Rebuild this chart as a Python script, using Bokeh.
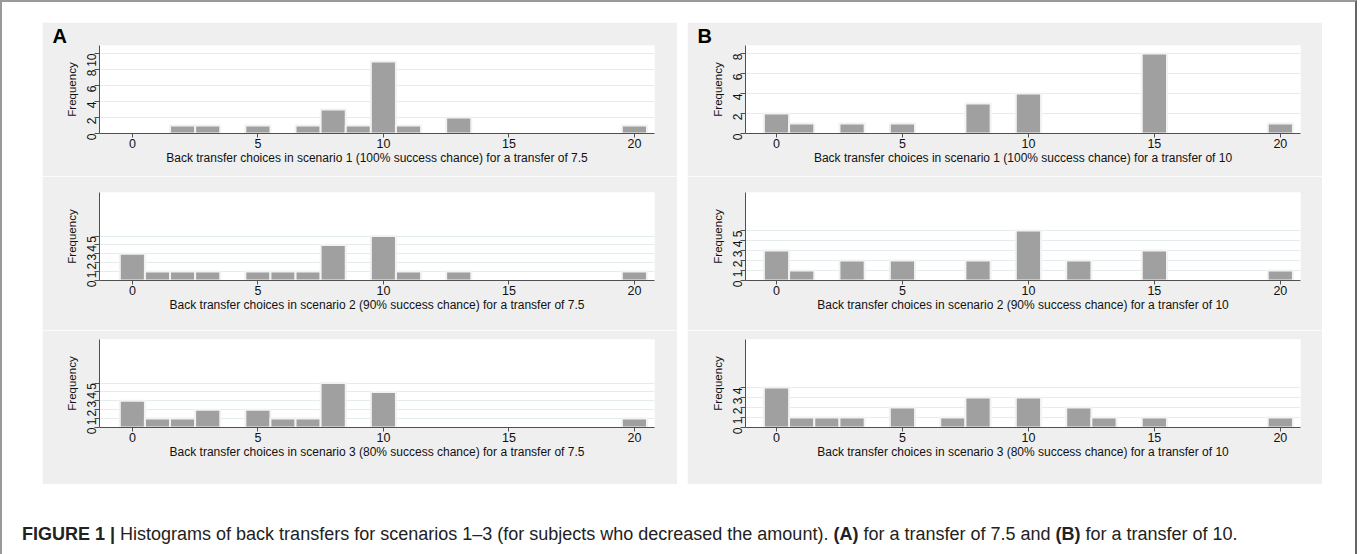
from bokeh.plotting import figure
from bokeh.layouts import column, row
from bokeh.models import Range1d, FixedTicker, Div
from bokeh.embed import file_html
from bokeh.resources import INLINE
import math

# ---------------- data ----------------
choices_A1 = [2, 3, 5, 7, 8, 9, 10, 11, 13, 20]
freq_A1 = [1, 1, 1, 1, 3, 1, 9, 1, 2, 1]
choices_A2 = [0, 1, 2, 3, 5, 6, 7, 8, 10, 11, 13, 20]
freq_A2 = [3, 1, 1, 1, 1, 1, 1, 4, 5, 1, 1, 1]
choices_A3 = [0, 1, 2, 3, 5, 6, 7, 8, 10, 20]
freq_A3 = [3, 1, 1, 2, 2, 1, 1, 5, 4, 1]

choices_B1 = [0, 1, 3, 5, 8, 10, 15, 20]
freq_B1 = [2, 1, 1, 1, 3, 4, 8, 1]
choices_B2 = [0, 1, 3, 5, 8, 10, 12, 15, 20]
freq_B2 = [3, 1, 2, 2, 2, 5, 2, 3, 1]
choices_B3 = [0, 1, 2, 3, 5, 7, 8, 10, 12, 13, 15, 20]
freq_B3 = [4, 1, 1, 1, 2, 1, 3, 3, 2, 1, 1, 1]

x_ticks = [0, 5, 10, 15, 20]
y_ticks_A1 = [0, 2, 4, 6, 8, 10]
y_ticks_A2 = [0, 1, 2, 3, 4, 5]
y_ticks_A3 = [0, 1, 2, 3, 4, 5]
y_ticks_B1 = [0, 2, 4, 6, 8]
y_ticks_B2 = [0, 1, 2, 3, 4, 5]
y_ticks_B3 = [0, 1, 2, 3, 4]

xlabels_A = [
    "Back transfer choices in scenario 1 (100% success chance) for a transfer of 7.5",
    "Back transfer choices in scenario 2 (90% success chance) for a transfer of 7.5",
    "Back transfer choices in scenario 3 (80% success chance) for a transfer of 7.5",
]
xlabels_B = [
    "Back transfer choices in scenario 1 (100% success chance) for a transfer of 10",
    "Back transfer choices in scenario 2 (90% success chance) for a transfer of 10",
    "Back transfer choices in scenario 3 (80% success chance) for a transfer of 10",
]
ylabel = "Frequency"
panel_letters = ["A", "B"]
caption_html = ("<b>FIGURE 1 |</b> Histograms of back transfers for scenarios 1\u20133 "
                "(for subjects who decreased the amount). <b>(A)</b> for a transfer of 7.5 "
                "and <b>(B)</b> for a transfer of 10.")

# ---------------- style ----------------
FONT = "Liberation Sans"
PANEL_BG = "#efefef"
BAR = "#a0a0a0"
AXIS = "#505050"
GRID = "#e4ecee"
TXT = "#111111"
FRAME_L = "2px solid #9a9a9a"
FRAME_R = "2px solid #666666"

ROW_H = 154
TOPS = [23, 16, 9]
BOTTOMS = [43, 50, 57]


def make(xs, ys, yticks, ymax, xlabel, x_start, top, bottom, left, right, letter=None):
    p = figure(width=635, height=ROW_H, output_backend="svg", toolbar_location=None,
               x_range=Range1d(x_start, 20.8), y_range=Range1d(0, ymax),
               min_border_top=top, min_border_bottom=bottom,
               min_border_left=left, min_border_right=right,
               background_fill_color="white", border_fill_color=PANEL_BG,
               outline_line_color=None)
    p.vbar(x=xs, top=ys, bottom=0, width=1, fill_color=BAR,
           line_color="#f2f2f2", line_width=2)
    p.xgrid.visible = False
    p.ygrid.grid_line_color = GRID
    p.ygrid.grid_line_width = 1

    for ax in (p.xaxis, p.yaxis):
        ax.axis_line_color = AXIS
        ax.major_tick_line_color = AXIS
        ax.minor_tick_line_color = None
        ax.major_tick_in = 0
        ax.major_label_text_font = FONT
        ax.major_label_text_color = TXT
        ax.axis_label_text_font = FONT
        ax.axis_label_text_font_style = "normal"
        ax.axis_label_text_color = TXT

    p.xaxis.ticker = FixedTicker(ticks=x_ticks)
    p.xaxis.major_tick_out = 4
    p.xaxis.major_label_standoff = 1
    p.xaxis.major_label_text_font_size = "12.5px"
    p.xaxis.axis_label = xlabel
    p.xaxis.axis_label_text_font_size = "12px"
    p.xaxis.axis_label_standoff = 0

    p.yaxis.ticker = FixedTicker(ticks=yticks)
    p.yaxis.major_tick_out = 5
    p.yaxis.major_label_orientation = math.pi / 2
    p.yaxis.major_label_standoff = 3
    p.yaxis.major_label_text_font_size = "12px"
    p.yaxis.axis_label = ylabel
    p.yaxis.axis_label_text_font_size = "11.5px"
    p.yaxis.axis_label_standoff = 2

    if letter:
        p.title.text = letter
        p.title.align = "left"
        p.title.offset = -(left - 10)
        p.title.standoff = -3
        p.title.text_font = FONT
        p.title.text_font_size = "20px"
        p.title.text_font_style = "bold"
        p.title.text_color = "#000000"
    return p


A = [
    make(choices_A1, freq_A1, y_ticks_A1, 11.0, xlabels_A[0], -1.31, TOPS[0], BOTTOMS[0], 57, 23, panel_letters[0]),
    make(choices_A2, freq_A2, y_ticks_A2, 9.9, xlabels_A[1], -1.31, TOPS[1], BOTTOMS[1], 57, 23),
    make(choices_A3, freq_A3, y_ticks_A3, 9.9, xlabels_A[2], -1.31, TOPS[2], BOTTOMS[2], 57, 23),
]
B = [
    make(choices_B1, freq_B1, y_ticks_B1, 8.8, xlabels_B[0], -1.23, TOPS[0], BOTTOMS[0], 58, 22, panel_letters[1]),
    make(choices_B2, freq_B2, y_ticks_B2, 8.8, xlabels_B[1], -1.23, TOPS[1], BOTTOMS[1], 58, 22),
    make(choices_B3, freq_B3, y_ticks_B3, 8.8, xlabels_B[2], -1.23, TOPS[2], BOTTOMS[2], 58, 22),
]

colA = column(*A, spacing=0)
colB = column(*B, spacing=0)


def box(w, h, inner_w, css, inner=""):
    return Div(text=('<div style="box-sizing:border-box;width:%dpx;height:%dpx;%s">%s</div>'
                     % (inner_w, h, css, inner)), width=w, height=h, margin=0)


W = 1360
top_strip = box(W, 22, 1357, "border-top:%s;border-left:%s;border-right:%s;" % (FRAME_L, FRAME_L, FRAME_R))
left_strip = box(42, 462, 42, "border-left:%s;" % FRAME_L)
gap_strip = box(10, 462, 10, "")
right_strip = box(38, 462, 35, "border-right:%s;" % FRAME_R)
caption = box(W, 70, 1357,
              "border-left:%s;border-right:%s;font-family:'Liberation Sans',Arial,sans-serif;"
              "font-size:18px;color:#222;white-space:nowrap;padding:38px 0 0 20px;" % (FRAME_L, FRAME_R),
              caption_html)

panels = row(left_strip, colA, gap_strip, colB, right_strip, spacing=0, margin=0)

root = column(top_strip, panels, caption, spacing=0, margin=0)

open("out.html", "w").write(file_html(root, INLINE))
